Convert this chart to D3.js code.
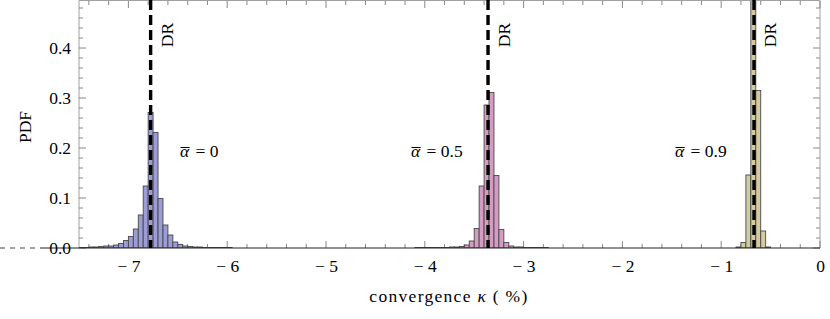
<!DOCTYPE html>
<html><head><meta charset="utf-8">
<script src="https://cdn.jsdelivr.net/npm/d3@7"></script>
<style>
body{margin:0;background:#fff}
text{font-family:"Liberation Serif","Times New Roman",serif;fill:#000}
</style>
</head><body>
<svg id="c" width="830" height="319"></svg>
<script>
// ---- data ----
const binWidth = 0.05;
const alphaLabels = ["0", "0.5", "0.9"];
const binStart0 = -7.50;
const values0 = [0.001,0.001,0.002,0.002,0.003,0.004,0.004,0.006,0.009,0.015,0.023,0.038,0.066,0.124,0.271,0.231,0.099,0.046,0.026,0.012,0.007,0.004,0.003,0.002,0.002,0.001,0.001,0.001,0.001,0.001,0.001];
const binStart05 = -4.10;
const values05 = [0.001,0.001,0.001,0.001,0.001,0.001,0.001,0.002,0.002,0.003,0.006,0.014,0.039,0.124,0.286,0.311,0.145,0.037,0.011,0.004,0.002,0.002,0.001,0.001,0.001,0.001,0.001];
const binStart09 = -0.85;
const values09 = [0.002,0.011,0.146,0.52,0.315,0.034,0.002];
const drPositions = [-6.775, -3.36, -0.668];
const xTicks = [-7,-6,-5,-4,-3,-2,-1,0];
const yTicks = [0,0.1,0.2,0.3,0.4];
const colors = ["#9c9cd6", "#d49cc2", "#d3caa0"];

// ---- chart ----
const svg = d3.select("#c");
const x = d3.scaleLinear().domain([-7.5, 0]).range([79, 820]);
const y = d3.scaleLinear().domain([0, 0.494]).range([248, 1]);
const FS = 17.5;

svg.append("defs").append("clipPath").attr("id","clip")
  .append("rect").attr("x",79).attr("y",1).attr("width",741).attr("height",247);

const series = [
  {start: binStart0, vals: values0},
  {start: binStart05, vals: values05},
  {start: binStart09, vals: values09}
];

// frame (left, top, right)
const frame = svg.append("g").attr("stroke","#a0a0a0").attr("stroke-width",1).attr("fill","none");
frame.append("line").attr("x1",x(-7.5)).attr("x2",x(-7.5)).attr("y1",y.range()[1]-0.5).attr("y2",y(0));
frame.append("line").attr("x1",x(0)).attr("x2",x(0)).attr("y1",y.range()[1]-0.5).attr("y2",y(0));
frame.append("line").attr("x1",x(-7.5)).attr("x2",x(0)).attr("y1",0.5).attr("y2",0.5);

// ticks
const tk = svg.append("g").attr("stroke","#888").attr("stroke-width",1);
const yMinor = d3.range(0, 0.4901, 0.02);
yMinor.forEach(v => {
  const major = Math.abs(v*10 - Math.round(v*10)) < 1e-6;
  const L = major ? 7 : 4;
  tk.append("line").attr("x1",x(-7.5)).attr("x2",x(-7.5)+L).attr("y1",y(v)).attr("y2",y(v));
  tk.append("line").attr("x1",x(0)).attr("x2",x(0)-L).attr("y1",y(v)).attr("y2",y(v));
});
const xMinor = d3.range(-7.4, 0.001, 0.2);
xMinor.forEach(v => {
  const major = Math.abs(v - Math.round(v)) < 1e-6;
  const L = major ? 7 : 4;
  tk.append("line").attr("x1",x(v)).attr("x2",x(v)).attr("y1",1).attr("y2",1+L);
  tk.append("line").attr("x1",x(v)).attr("x2",x(v)).attr("y1",y(0)).attr("y2",y(0)-L);
});

// bars
const barsG = svg.append("g").attr("clip-path","url(#clip)");
series.forEach((s, i) => {
  const data = s.vals.map((v, k) => ({x0: s.start + k*binWidth, v}));
  barsG.selectAll(null).data(data).enter().append("rect")
    .attr("x", d => x(d.x0))
    .attr("width", d => x(d.x0 + binWidth) - x(d.x0))
    .attr("y", d => y(d.v))
    .attr("height", d => y(0) - y(d.v))
    .attr("fill", colors[i])
    .attr("stroke", "#484848")
    .attr("stroke-width", 0.9);
});

// x axis line + left dashed extension
svg.append("line").attr("x1",40).attr("x2",x(0)).attr("y1",y(0)).attr("y2",y(0))
  .attr("stroke","#222").attr("stroke-width",1.2);
svg.append("line").attr("x1",0).attr("x2",40).attr("y1",y(0)).attr("y2",y(0))
  .attr("stroke","#444").attr("stroke-width",1).attr("stroke-dasharray","5,5");

// DR lines
svg.append("g").selectAll(null).data(drPositions).enter().append("line")
  .attr("x1", d => x(d)).attr("x2", d => x(d))
  .attr("y1", 0).attr("y2", y(0))
  .attr("stroke","#000").attr("stroke-width",3.4).attr("stroke-dasharray","10,5");
svg.append("g").selectAll(null).data(drPositions).enter().append("text")
  .attr("transform", d => `translate(${x(d)+16},35) rotate(-90)`)
  .attr("dy","0.35em").attr("text-anchor","middle").attr("font-size",FS)
  .text("DR");

// x axis labels via d3 axis
const xAxis = d3.axisBottom(x).tickValues(xTicks).tickSize(0)
  .tickFormat(d => d === 0 ? "0" : "\u2212 " + Math.abs(d));
const xg = svg.append("g").attr("transform","translate(0,0)").call(xAxis);
xg.select(".domain").remove();
xg.selectAll("text").attr("y", 272).attr("dy", 0)
  .attr("font-size", FS).attr("font-family","Liberation Serif").attr("fill","#000");

// y axis labels via d3 axis
const yAxis = d3.axisLeft(y).tickValues(yTicks).tickSize(0).tickFormat(d3.format(".1f"));
const yg = svg.append("g").call(yAxis);
yg.select(".domain").remove();
yg.selectAll("text").attr("x", 71).attr("dy", "0.32em")
  .attr("font-size", FS).attr("font-family","Liberation Serif").attr("fill","#000")
  .attr("text-anchor","end");

// axis titles
svg.append("text").attr("transform","translate(25,127) rotate(-90)")
  .attr("dy","0.35em").attr("text-anchor","middle").attr("font-size",FS).text("PDF");
const xt = svg.append("text").attr("x",449).attr("y",302).attr("text-anchor","middle")
  .attr("font-size",FS).attr("letter-spacing","1.3px");
xt.append("tspan").text("convergence ");
xt.append("tspan").attr("font-style","italic").text("\u03BA");
xt.append("tspan").text(" ( %)");

// alpha labels
const alphaPos = [[180,157],[411,157],[675,157]];
alphaLabels.forEach((lab, i) => {
  const [ax, ay] = alphaPos[i];
  const a = svg.append("text").attr("x",ax).attr("y",ay).attr("font-size",FS)
    .attr("font-style","italic").text("\u03B1");
  const w = a.node().getComputedTextLength();
  svg.append("line").attr("x1",ax+0.5).attr("x2",ax+w+0.5).attr("y1",ay-9.5).attr("y2",ay-9.5)
    .attr("stroke","#000").attr("stroke-width",1);
  svg.append("text").attr("x",ax+w+2).attr("y",ay).attr("font-size",FS)
    .text(" = " + lab).attr("xml:space","preserve").style("white-space","pre");
});
</script>
</body></html>
